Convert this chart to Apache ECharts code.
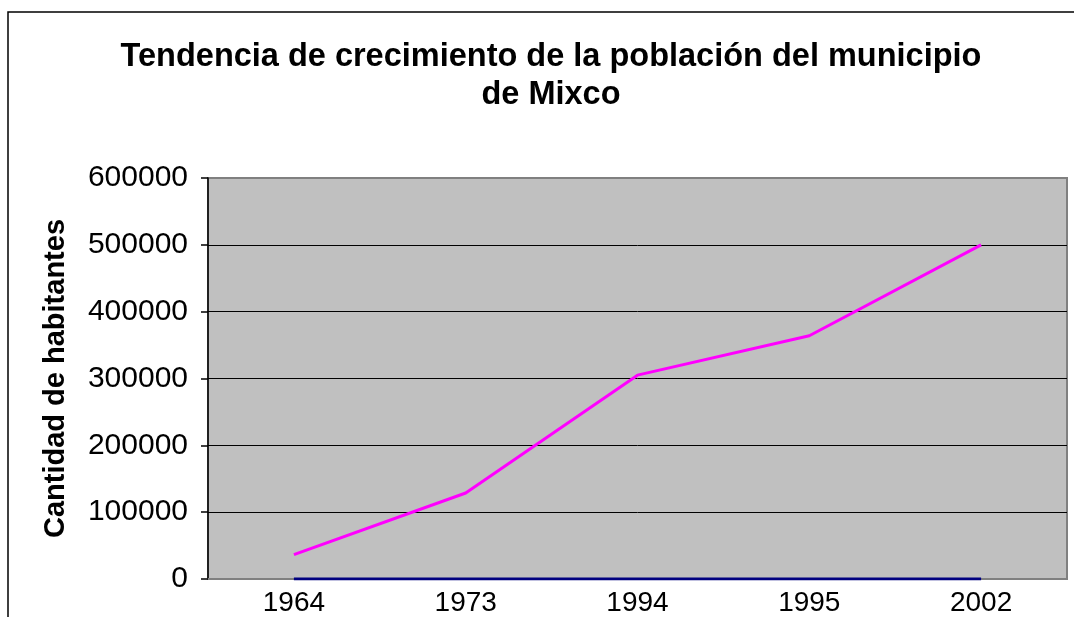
<!DOCTYPE html>
<html lang="es">
    <head>
        <meta charset="utf-8">
        <title>Tendencia de crecimiento de la población del municipio de Mixco</title>
        <style>
            html, body { margin: 0; padding: 0; background: #fff; }
        </style>
    </head>

    <body>
        <div id="echart" style="width: 1074px; height: 617px;"></div>
        <script src="https://cdn.jsdelivr.net/npm/echarts@6/dist/echarts.min.js"></script>
        <script>
            let years = ['1964', '1973', '1994', '1995', '2002'];
            let poblacion = [36400, 128700, 305000, 364000, 500000];
            let serieBase = [0, 0, 0, 0, 0];

            let font = 'Liberation Sans, Arial, sans-serif';
            let myChart = echarts.init(document.getElementById('echart'));

            let option = {
                animation: false,
                backgroundColor: '#fff',
                title: {
                    text: 'Tendencia de crecimiento de la población del municipio\nde Mixco',
                    left: 546,
                    textAlign: 'center',
                    top: 33,
                    textStyle: {
                        fontFamily: font,
                        fontSize: 32.5,
                        fontWeight: 'bold',
                        color: '#000',
                        lineHeight: 38
                    }
                },
                graphic: [
                    {
                        type: 'rect',
                        shape: { x: 8, y: 12, width: 1200, height: 800 },
                        style: { fill: 'none', stroke: '#000', lineWidth: 1.5 },
                        silent: true
                    }
                ],
                grid: {
                    left: 208,
                    right: 7,
                    top: 178,
                    bottom: 38,
                    show: true,
                    backgroundColor: '#C0C0C0',
                    borderColor: '#808080',
                    borderWidth: 2
                },
                xAxis: {
                    type: 'category',
                    data: years,
                    boundaryGap: true,
                    axisLine: { lineStyle: { color: '#808080', width: 2 } },
                    axisTick: { show: false },
                    axisLabel: {
                        fontFamily: font,
                        fontSize: 28,
                        color: '#000',
                        margin: 10
                    }
                },
                yAxis: {
                    type: 'value',
                    min: 0,
                    max: 600000,
                    interval: 100000,
                    name: 'Cantidad de habitantes',
                    nameLocation: 'middle',
                    nameRotate: 90,
                    nameGap: 138,
                    nameTextStyle: {
                        fontFamily: font,
                        fontSize: 29,
                        fontWeight: 'bold',
                        color: '#000'
                    },
                    axisLine: { show: true, lineStyle: { color: '#000', width: 1.5 } },
                    axisTick: { show: true, length: 7, lineStyle: { color: '#000', width: 1.5 } },
                    axisLabel: {
                        fontFamily: font,
                        fontSize: 30,
                        color: '#000',
                        margin: 20,
                        formatter: function (v) { return String(v); }
                    },
                    splitLine: {
                        show: true,
                        lineStyle: {
                            color: ['#808080', '#000', '#000', '#000', '#000', '#000', '#808080'],
                            width: 1
                        }
                    }
                },
                series: [
                    {
                        name: 'Base',
                        type: 'line',
                        data: serieBase,
                        showSymbol: false,
                        symbol: 'none',
                        lineStyle: { color: '#000080', width: 3 },
                        z: 3
                    },
                    {
                        name: 'Población',
                        type: 'line',
                        data: poblacion,
                        showSymbol: false,
                        symbol: 'none',
                        lineStyle: { color: '#FF00FF', width: 3 },
                        z: 4
                    }
                ]
            };
            myChart.setOption(option);
        </script>
    </body>
</html>
